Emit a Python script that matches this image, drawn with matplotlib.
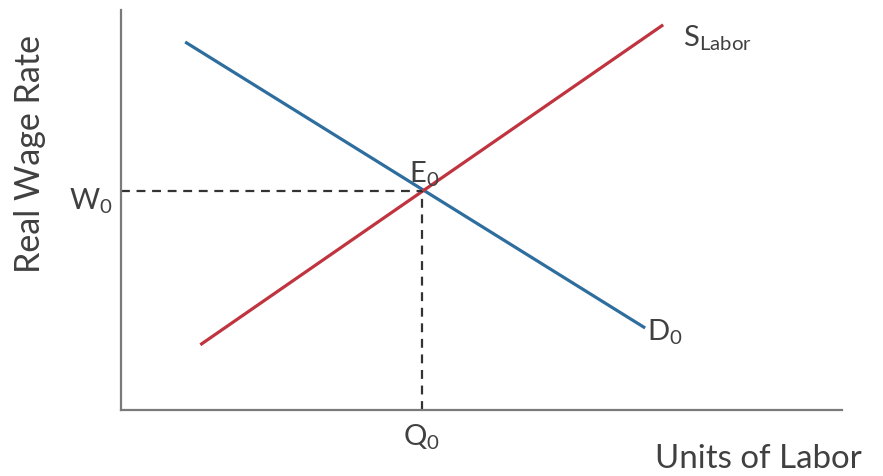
import matplotlib
matplotlib.use("Agg")
import matplotlib.pyplot as plt

# labour market: demand and supply lines
demand_q = [0.89, 7.27]
demand_w = [9.2, 2.05]
supply_q = [1.10, 7.52]
supply_w = [1.63, 9.63]
eq_q = 4.17
eq_w = 5.48

plt.rcParams['font.family'] = ['Lato', 'DejaVu Sans']
plt.rcParams['mathtext.fontset'] = 'custom'
plt.rcParams['mathtext.rm'] = 'Lato'
plt.rcParams['mathtext.it'] = 'Lato'

fig = plt.figure(figsize=(8.83, 4.76), dpi=100)
ax = fig.add_axes([121/883, 1 - 410/476, (842-121)/883, 400/476])
ax.set_xlim(0, 10)
ax.set_ylim(0, 10)

txt = '#404040'
ax.plot(demand_q, demand_w, color='#2e6e9e', lw=2.3, solid_capstyle='butt')
ax.plot(supply_q, supply_w, color='#c0343f', lw=2.3, solid_capstyle='butt')

# dashed guides to the equilibrium
ax.plot([0, eq_q], [eq_w, eq_w], ls=(0, (4, 3)), color='#333333', lw=1.6)
ax.plot([eq_q, eq_q], [0, eq_w], ls=(0, (4, 3)), color='#333333', lw=1.6)

for side in ['top', 'right']:
    ax.spines[side].set_visible(False)
for side in ['left', 'bottom']:
    ax.spines[side].set_color('#7a7a7a')
    ax.spines[side].set_linewidth(1.6)
ax.set_xticks([])
ax.set_yticks([])

fs = 21
ax.text(-0.12, eq_w - 0.25, r'$\mathrm{W_0}$', ha='right', va='center', fontsize=fs, color=txt)
ax.text(eq_q, -0.68, r'$\mathrm{Q_0}$', ha='center', va='center', fontsize=fs, color=txt)
ax.text(eq_q - 0.17, 5.9, r'$\mathrm{E_0}$', ha='left', va='center', fontsize=fs, color=txt)
ax.text(7.3, 1.95, r'$\mathrm{D_0}$', ha='left', va='center', fontsize=fs, color=txt)
ax.text(7.8, 9.3, r'$\mathrm{S_{Labor}}$', ha='left', va='center', fontsize=fs, color=txt)

ax.text(7.4, -1.22, 'Units of Labor', ha='left', va='center', fontsize=23.8, color=txt,
        clip_on=False)
ax.text(-1.26, 6.4, 'Real Wage Rate', ha='center', va='center', rotation=90,
        fontsize=24.5, color=txt, clip_on=False)

fig.savefig('out.png', dpi=100, facecolor='white')
